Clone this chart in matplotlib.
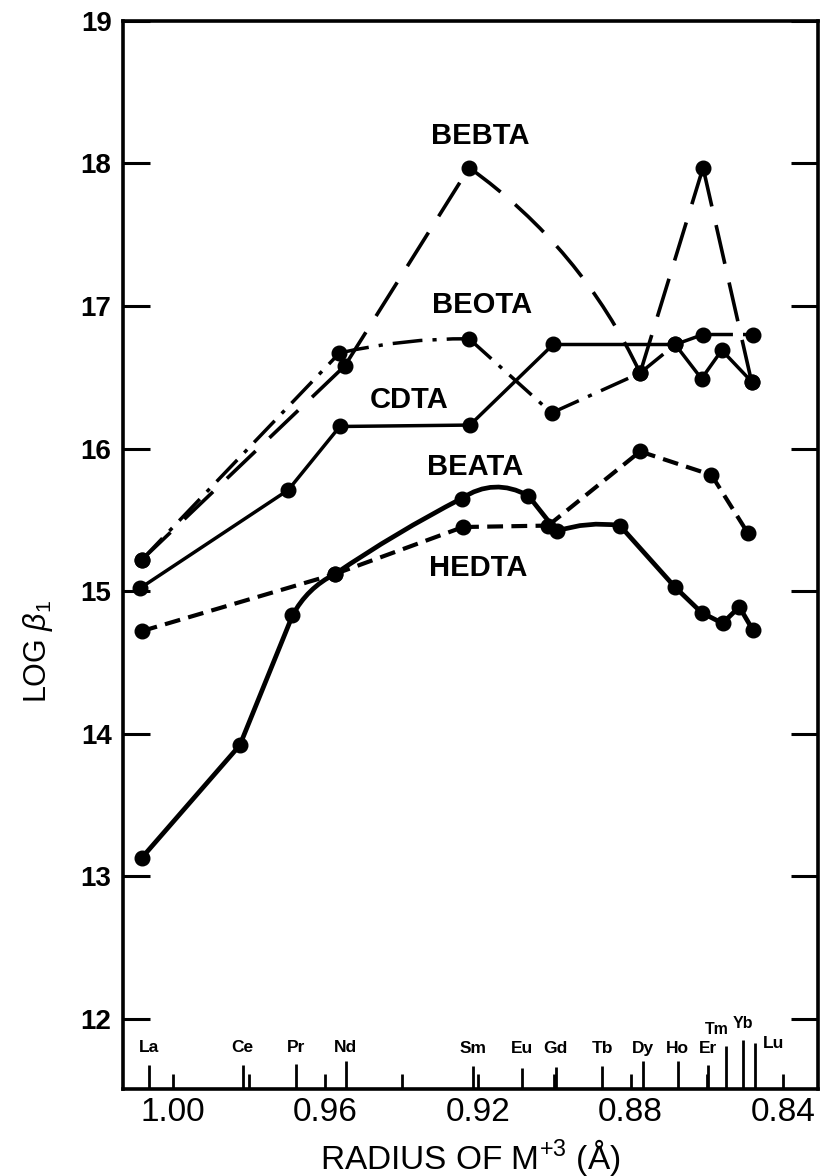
import matplotlib
matplotlib.use("Agg")
import matplotlib.pyplot as plt
from matplotlib.patches import FancyArrowPatch
from matplotlib.transforms import blended_transform_factory

plt.rcParams['font.family'] = ['Liberation Sans', 'DejaVu Sans']
plt.rcParams['mathtext.fontset'] = 'custom'
plt.rcParams['mathtext.rm'] = 'Liberation Sans'
plt.rcParams['mathtext.it'] = 'Liberation Sans:italic'

# ---------------- data ----------------
elements = ["La", "Ce", "Pr", "Nd", "Sm", "Eu", "Gd", "Tb", "Dy", "Ho", "Er", "Tm", "Yb", "Lu"]
element_radius = [1.0061, 0.9817, 0.9677, 0.9547, 0.9212, 0.9085, 0.8996, 0.8874,
                  0.8768, 0.8677, 0.8598, 0.8550, 0.8505, 0.8474]
radius_ticks = [1.00, 0.98, 0.96, 0.94, 0.92, 0.90, 0.88, 0.86, 0.84]
radius_labels = ["1.00", "", "0.96", "", "0.92", "", "0.88", "", "0.84"]
logb_ticks = [12, 13, 14, 15, 16, 17, 18, 19]

bebta_r = [1.0081, 0.9549, 0.9223, 0.8775, 0.8610, 0.8483]
bebta_logb = [15.22, 16.58, 17.97, 16.53, 17.97, 16.47]

beota_r = [1.0081, 0.9563, 0.9223, 0.9007, 0.8775, 0.8683, 0.8610, 0.8479]
beota_logb = [15.22, 16.67, 16.77, 16.25, 16.53, 16.73, 16.80, 16.80]

cdta_r = [1.0086, 0.9697, 0.9562, 0.9221, 0.9003, 0.8683, 0.8614, 0.8561, 0.8483]
cdta_logb = [15.02, 15.71, 16.155, 16.165, 16.73, 16.73, 16.49, 16.69, 16.47]

beata_r = [1.0081, 0.9824, 0.9686, 0.9575, 0.9243, 0.9068, 0.8994, 0.8828,
           0.8684, 0.8614, 0.8559, 0.8515, 0.8480]
beata_logb = [13.13, 13.92, 14.83, 15.12, 15.65, 15.67, 15.42, 15.46,
              15.03, 14.85, 14.775, 14.89, 14.73]

hedta_r = [1.0081, 0.9575, 0.9239, 0.9016, 0.8775, 0.8588, 0.8492]
hedta_logb = [14.72, 15.12, 15.45, 15.46, 15.98, 15.815, 15.405]

series_names = ["BEBTA", "BEOTA", "CDTA", "BEATA", "HEDTA"]
name_pos_r = [0.9195, 0.9188, 0.9380, 0.9208, 0.9199]
name_pos_logb = [18.19, 17.01, 16.34, 15.87, 15.16]

# ---------------- styles ----------------
bebta_rad = [0, 0, -0.13, 0, 0]
beota_rad = [0, -0.06, 0, 0, 0, 0, 0]
cdta_rad = [0] * 8
beata_rad = [0, 0, -0.16, -0.03, -0.3, 0, -0.12, 0, 0, 0, 0, 0]
hedta_rad = [0] * 6

elem_tick_px = [24, 24, 25, 28, 23, 21, 22, 23, 28, 28, 24, 43, 49, 46]
elem_label_dx = [0, 0, 0, 0, 0, 0, 0, 0, 0, 0, 0, 0.0025, 0.0, -0.0048]
elem_label_y = [11.80, 11.80, 11.80, 11.80, 11.79, 11.79, 11.79, 11.79,
                11.79, 11.79, 11.79, 11.925, 11.97, 11.83]
elem_label_size = [12.5] * 11 + [11.5, 11.5, 12.5]

W, H = 829, 1176
fig = plt.figure(figsize=(W / 100, H / 100), dpi=100)
ax_left, ax_right, ax_bottom, ax_top = 122.7, 818.3, 1089.0, 20.8
ax = fig.add_axes([ax_left / W, (H - ax_bottom) / H,
                   (ax_right - ax_left) / W, (ax_bottom - ax_top) / H])
axes_h_px = ax_bottom - ax_top

ax.set_xlim(1.0131, 0.8308)
ax.set_ylim(11.509, 19.0)


def draw_series(xs, ys, rads, lw, ls):
    for i in range(len(xs) - 1):
        p = FancyArrowPatch((xs[i], ys[i]), (xs[i + 1], ys[i + 1]),
                            arrowstyle='-', connectionstyle=f"arc3,rad={rads[i]}",
                            shrinkA=0, shrinkB=0, lw=lw, linestyle=ls,
                            color='black', capstyle='butt', joinstyle='round',
                            zorder=3)
        ax.add_patch(p)
    ax.plot(xs, ys, 'o', color='black', ms=10.5, zorder=4)


draw_series(bebta_r, bebta_logb, bebta_rad, 2.6, (0, (11, 5.3)))
draw_series(beota_r, beota_logb, beota_rad, 2.5, (0, (8.6, 2.9, 1.2, 2.9)))
draw_series(cdta_r, cdta_logb, cdta_rad, 2.5, '-')
draw_series(beata_r, beata_logb, beata_rad, 3.4, '-')
draw_series(hedta_r, hedta_logb, hedta_rad, 3.0, (0, (3.8, 2.0)))

for name, xr, yv in zip(series_names, name_pos_r, name_pos_logb):
    ax.text(xr, yv, name, ha='center', va='center', fontsize=21,
            fontweight='bold', zorder=5)

# element ticks and labels
trans = blended_transform_factory(ax.transData, ax.transAxes)
for el, r, h, dx, yl, fs in zip(elements, element_radius, elem_tick_px,
                                elem_label_dx, elem_label_y, elem_label_size):
    ax.plot([r, r], [0, h / axes_h_px], color='black', lw=2.0,
            transform=trans, solid_capstyle='butt', clip_on=False)
    ax.text(r + dx, yl, el, ha='center', va='center', fontsize=fs,
            fontweight='bold')

# axes ticks
ax.set_xticks(radius_ticks)
ax.set_xticklabels(radius_labels)
ax.set_yticks(logb_ticks)
ax.set_yticklabels([str(t) for t in logb_ticks])
ax.tick_params(axis='x', direction='in', length=10.5, width=2.0, pad=6,
               labelsize=24, top=False)
ax.tick_params(axis='y', direction='in', length=19.5, width=2.2, pad=8,
               labelsize=20, right=True, left=True)
for lab in ax.get_yticklabels():
    lab.set_fontweight('bold')

for side in ['left', 'right', 'bottom', 'top']:
    ax.spines[side].set_linewidth(2.6)

ax.set_xlabel("RADIUS OF M$^{+3}$ (Å)", fontsize=24)
ax.xaxis.set_label_coords(0.5, -0.064)
ax.xaxis.label.set_va('center')
ax.set_ylabel(r"LOG $\beta_1$", fontsize=22)
ax.yaxis.label.set_rotation_mode('default')
ax.yaxis.label.set_va('center')
ax.yaxis.set_label_coords(-0.122, 0.41)

fig.savefig("out.png", dpi=100)
